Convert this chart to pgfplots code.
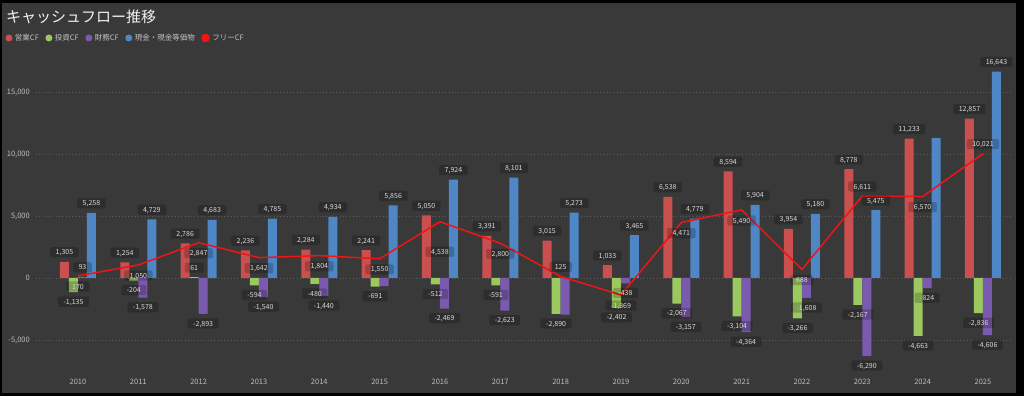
\documentclass[border=0pt]{standalone}
\usepackage{pgfplots}
\pgfplotsset{compat=1.18}
\usepackage{pgfplotstable}
\usepackage{fontspec}
\setmainfont{Noto Sans CJK JP}

\definecolor{bgc}{HTML}{393939}
\definecolor{opc}{HTML}{C9504F}
\definecolor{invc}{HTML}{9BC85F}
\definecolor{finc}{HTML}{7A5AAF}
\definecolor{cashc}{HTML}{4E86C6}
\definecolor{fcfc}{HTML}{F01414}
\definecolor{gridc}{HTML}{5C5C5C}
\definecolor{tickc}{HTML}{BDBDBD}
\definecolor{lblc}{HTML}{D8D8D8}
\definecolor{legc}{HTML}{C2C2C2}
\definecolor{titlec}{HTML}{F2F2F2}

\pgfplotstableread{
year op inv fin cash fcf
2010 1305 -1135 93 5258 170
2011 1254 -204 -1578 4729 1050
2012 2786 61 -2893 4683 2847
2013 2236 -594 -1540 4785 1642
2014 2284 -480 -1440 4934 1804
2015 2241 -691 -650 5856 1550
2016 5050 -512 -2469 7924 4538
2017 3391 -591 -2623 8101 2800
2018 3015 -2890 -2950 5273 125
2019 1033 -2402 -438 3465 -1369
2020 6538 -2067 -3157 4779 4471
2021 8594 -3104 -4364 5904 5490
2022 3954 -3266 -1608 5180 688
2023 8778 -2167 -6290 5475 6611
2024 11233 -4663 -824 11300 6570
2025 12857 -2836 -4606 16643 10021
}\cfdata

\tikzset{
  lblbox/.style={font=\fontsize{7}{7}\selectfont, text=lblc, fill=black, fill opacity=0.2, text opacity=1,
    rounded corners=2pt, inner xsep=5.5pt, inner ysep=2.5pt, text height=5.2pt, text depth=0pt},
}
\pgfplotsset{
  numlbl/.style={nodes near coords={\pgfmathprintnumber[fixed,precision=0,1000 sep={,},assume math mode=true]{\pgfplotspointmeta}}},
  barlbl/.style={ybar, bar width=9pt, bar shift=#1, draw=none, fill=none, forget plot, numlbl,
    nodes near coords align=vertical, every node near coord/.append style={lblbox, outer ysep=4.5pt, xshift=#1}},
  barplot/.style n args={2}{ybar, bar width=9pt, bar shift=#1, fill=#2, draw=none,
    legend image code/.code={\fill[#2] (3.5pt,0pt) circle (3.5pt);}},
}

\begin{document}
\begin{tikzpicture}[x=1pt,y=1pt]
\fill[black] (0,0) rectangle (1024,396);
\fill[bgc] (2,3) rectangle (1016,393);
\node[anchor=west, inner sep=0pt, text=titlec, font=\fontsize{15}{15}\selectfont] at (6,379.5) {キャッシュフロー推移};
\begin{axis}[
  at={(36pt,24pt)}, anchor=south west,
  scale only axis, width=975pt, height=322pt,
  xmin=2009.304, xmax=2025.465, ymin=-7581, ymax=18387,
  axis line style={draw=none},
  major tick length=0pt,
  xtick={2010,2011,...,2025},
  ytick={-5000,0,5000,10000,15000},
  scaled y ticks=false,
  ymajorgrids,
  grid style={gridc, line width=0.7pt, dash pattern=on 0.8pt off 2.5pt},
  /pgf/number format/assume math mode=true,
  /pgf/number format/1000 sep={,},
  tick label style={text=tickc, font=\fontsize{7.5}{8}\selectfont},
  xticklabel style={/pgf/number format/1000 sep={}, anchor=north, inner sep=0pt, yshift=-7pt},
  yticklabel style={anchor=east, inner sep=0pt, xshift=-6pt},
  clip=false,
  legend columns=5,
  legend cell align=left,
  legend style={at={(axis description cs:-0.0313,1.0373)}, anchor=west, draw=none, fill=none,
    inner sep=0pt, outer sep=0pt, font=\fontsize{7.5}{8}\selectfont, text=legc,
    nodes={inner sep=0pt},
    /tikz/every odd column/.append style={column sep=2.5pt},
    /tikz/every even column/.append style={column sep=6.5pt}},
]
\addplot[barplot={-13.5pt}{opc}] table[x=year,y=op]{\cfdata};
\addlegendentry{営業CF}
\addplot[barplot={-4.5pt}{invc}] table[x=year,y=inv]{\cfdata};
\addlegendentry{投資CF}
\addplot[barplot={4.5pt}{finc}] table[x=year,y=fin]{\cfdata};
\addlegendentry{財務CF}
\addplot[barplot={13.5pt}{cashc}] table[x=year,y=cash]{\cfdata};
\addlegendentry{現金・現金等価物}
\addplot[fcfc, line width=1.5pt, sharp plot, mark=none,
  legend image code/.code={\fill[fcfc] (3.5pt,0pt) circle (3.5pt);}] table[x=year,y=fcf]{\cfdata};
\addlegendentry{フリーCF}

% labels
\addplot[barlbl=-13.5pt] table[x=year,y=op]{\cfdata};
\addplot[barlbl=-4.5pt] table[x=year,y=inv]{\cfdata};
\addplot[barlbl=4.5pt] coordinates {(2010,93) (2011,-1578) (2012,-2893) (2013,-1540) (2014,-1440)
  (2016,-2469) (2017,-2623) (2019,-438) (2020,-3157) (2021,-4364) (2022,-1608) (2023,-6290)
  (2024,-824) (2025,-4606)};
\addplot[barlbl=13.5pt] coordinates {(2010,5258) (2011,4729) (2012,4683) (2013,4785) (2014,4934)
  (2015,5856) (2016,7924) (2017,8101) (2018,5273) (2019,3465) (2020,4779) (2021,5904) (2022,5180)
  (2023,5475) (2025,16643)};
\addplot[draw=none, mark=none, forget plot, numlbl,
  every node near coord/.append style={lblbox, anchor=north, outer ysep=5.5pt}]
  coordinates {(2010,170) (2011,1050) (2012,2847) (2013,1642) (2014,1804) (2015,1550) (2017,2800)
  (2019,-1369) (2020,4471) (2021,5490) (2022,688) (2024,6570)};
\addplot[draw=none, mark=none, forget plot, numlbl,
  every node near coord/.append style={lblbox, anchor=north, outer ysep=25pt}]
  coordinates {(2016,4538)};
\addplot[draw=none, mark=none, forget plot, numlbl,
  every node near coord/.append style={lblbox, anchor=south, outer ysep=4.5pt}]
  coordinates {(2018,125) (2023,6611) (2025,10021)};
\end{axis}
\end{tikzpicture}
\end{document}
